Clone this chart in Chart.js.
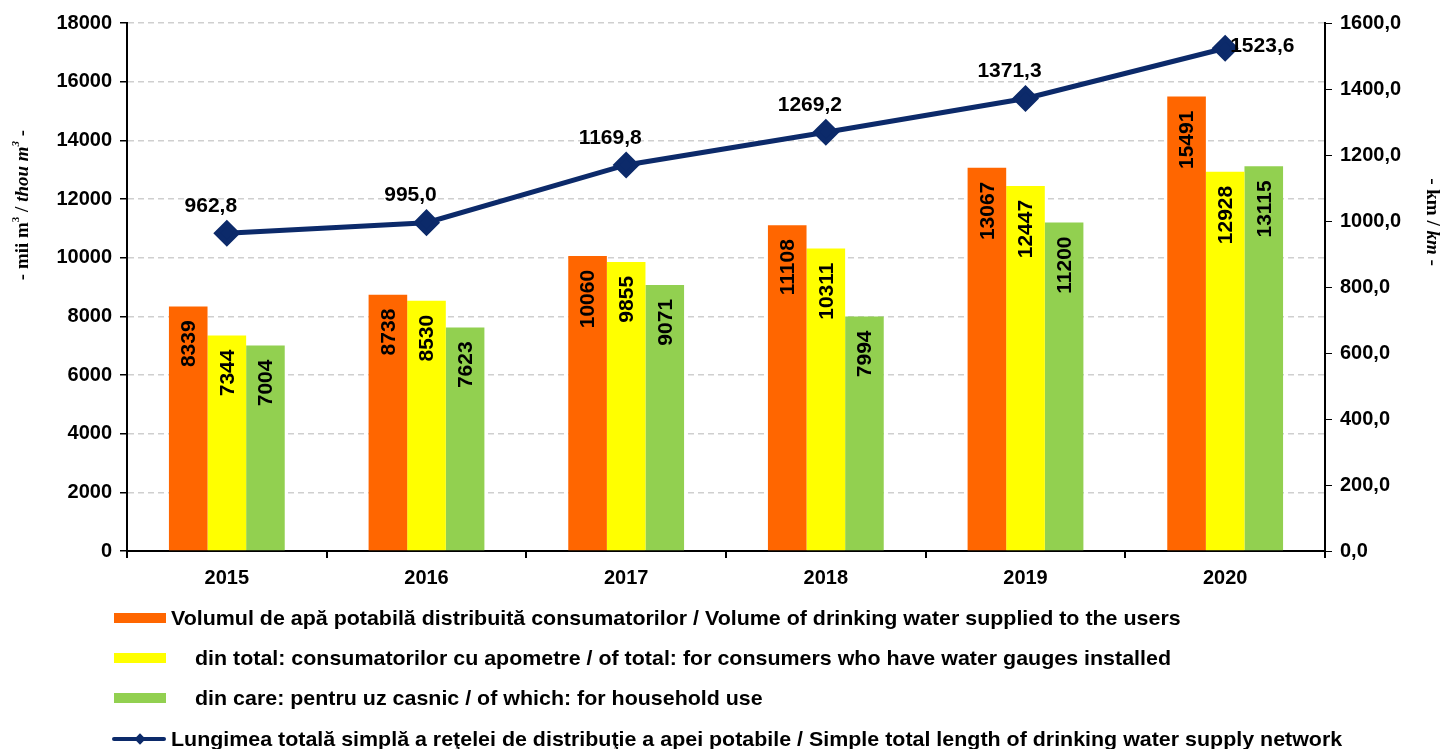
<!DOCTYPE html>
<html>
<head>
<meta charset="utf-8">
<script src="https://cdn.jsdelivr.net/npm/chart.js@4"></script>
<style>
  body { margin: 0; background: #fff; }
  #wrap { position: relative; width: 1443px; height: 749px; }
  #chart { position: absolute; left: 0; top: 0; }
  .legend-row { position: absolute; left: 0; height: 24px; font: bold 21px "Liberation Sans", Arial, sans-serif; color: #000; white-space: nowrap; }
  .legend-row .sw { position: absolute; left: 114px; top: 7px; width: 52px; height: 10px; }
  .legend-row .txt { position: absolute; top: 0; line-height: 24px; transform: scaleX(1.02); transform-origin: left center; }
  .legend-row .ln { position: absolute; left: 112px; top: 10px; width: 54px; height: 4px; background: #0c2a6a; border-radius: 2px; }
  .legend-row .dm { position: absolute; left: 136px; top: 8px; width: 8px; height: 8px; background: #0c2a6a; transform: rotate(45deg); }
</style>
</head>
<body>
<div id="wrap">
  <canvas id="chart" width="1443" height="749"></canvas>
  <div class="legend-row" style="top:606px"><span class="sw" style="background:#FF6600"></span><span class="txt" style="left:171px">Volumul de apă potabilă distribuită consumatorilor / Volume of drinking water supplied to the users</span></div>
  <div class="legend-row" style="top:646px"><span class="sw" style="background:#FFFF00"></span><span class="txt" style="left:195px">din total: consumatorilor cu apometre / of total: for consumers who have water gauges installed</span></div>
  <div class="legend-row" style="top:686px"><span class="sw" style="background:#92D050"></span><span class="txt" style="left:195px">din care: pentru uz casnic / of which: for household use</span></div>
  <div class="legend-row" style="top:727px"><span class="ln"></span><span class="dm"></span><span class="txt" style="left:171px">Lungimea totală simplă a reţelei de distribuţie a apei potabile / Simple total length of drinking water supply network</span></div>
</div>
<script>
const years = ['2015', '2016', '2017', '2018', '2019', '2020'];
const volumeSupplied = [8339, 8738, 10060, 11108, 13067, 15491];
const volumeWithGauges = [7344, 8530, 9855, 10311, 12447, 12928];
const volumeHousehold = [7004, 7623, 9071, 7994, 11200, 13115];
const networkLength = [962.8, 995.0, 1169.8, 1269.2, 1371.3, 1523.6];

const FONT = '"Liberation Sans", Arial, sans-serif';
const SERIF = '"Liberation Serif", "Times New Roman", serif';
const comma = v => v.toFixed(1).replace('.', ',');

// draws mixed-style text (italic / superscript) centred at cx,cy, rotated by angle
function drawRich(ctx, parts, cx, cy, angle, size) {
    ctx.save();
    ctx.translate(cx, cy);
    ctx.rotate(angle);
    ctx.textBaseline = 'middle';
    ctx.textAlign = 'left';
    const fontOf = p => (p.it ? 'italic ' : '') + 'bold ' + (p.sup ? Math.round(size * 0.6) : size) + 'px ' + SERIF;
    let total = 0;
    parts.forEach(p => { ctx.font = fontOf(p); total += ctx.measureText(p.t).width; });
    let x = -total / 2;
    parts.forEach(p => {
        ctx.font = fontOf(p);
        ctx.fillStyle = '#000';
        ctx.fillText(p.t, x, p.sup ? -size * 0.35 : 0);
        x += ctx.measureText(p.t).width;
    });
    ctx.restore();
}

const labelsPlugin = {
    id: 'labelsPlugin',
    afterDatasetsDraw(chart) {
        const ctx = chart.ctx;
        // rotated bar values, inside the top end of each bar
        [0, 1, 2].forEach(di => {
            const meta = chart.getDatasetMeta(di);
            meta.data.forEach((bar, i) => {
                ctx.save();
                ctx.translate(bar.x + 1, bar.y + 14);
                ctx.rotate(-Math.PI / 2);
                ctx.font = 'bold 21px ' + FONT;
                ctx.fillStyle = '#000';
                ctx.textAlign = 'right';
                ctx.textBaseline = 'middle';
                ctx.fillText(String(chart.data.datasets[di].data[i]), 0, 0);
                ctx.restore();
            });
        });
        // line values
        const lm = chart.getDatasetMeta(3);
        ctx.save();
        ctx.font = 'bold 21px ' + FONT;
        ctx.fillStyle = '#000';
        ctx.textBaseline = 'middle';
        lm.data.forEach((pt, i) => {
            const txt = comma(networkLength[i]);
            if (i === lm.data.length - 1) {
                ctx.textAlign = 'left';
                ctx.fillText(txt, pt.x + 5, pt.y - 2);
            } else {
                ctx.textAlign = 'center';
                ctx.fillText(txt, pt.x - 16, pt.y - 27);
            }
        });
        ctx.restore();
    },
    afterDraw(chart) {
        const ctx = chart.ctx;
        drawRich(ctx, [
            { t: '- mii m' }, { t: '3', sup: true }, { t: ' / ' },
            { t: 'thou m', it: true }, { t: '3', sup: true, it: true }, { t: ' -' }
        ], 23, 205, -Math.PI / 2, 19);
        drawRich(ctx, [
            { t: '- km / ' }, { t: 'km', it: true }, { t: ' -' }
        ], 1432, 222, Math.PI / 2, 19);
    }
};

const ctx = document.getElementById('chart').getContext('2d');
new Chart(ctx, {
    data: {
        labels: years,
        datasets: [
            { type: 'bar', label: 'Volumul de apă potabilă distribuită consumatorilor / Volume of drinking water supplied to the users', data: volumeSupplied, backgroundColor: '#FF6600', yAxisID: 'y', order: 2 },
            { type: 'bar', label: 'din total: consumatorilor cu apometre / of total: for consumers who have water gauges installed', data: volumeWithGauges, backgroundColor: '#FFFF00', yAxisID: 'y', order: 2 },
            { type: 'bar', label: 'din care: pentru uz casnic / of which: for household use', data: volumeHousehold, backgroundColor: '#92D050', yAxisID: 'y', order: 2 },
            {
                type: 'line', label: 'Lungimea totală simplă a reţelei de distribuţie a apei potabile / Simple total length of drinking water supply network',
                data: networkLength, yAxisID: 'y1', order: 1,
                borderColor: '#0c2a6a', backgroundColor: '#0c2a6a', borderWidth: 5,
                pointStyle: 'rectRot', pointRadius: 10, pointHoverRadius: 10, tension: 0
            }
        ]
    },
    options: {
        responsive: false,
        animation: false,
        layout: { padding: { top: 23, bottom: 158, left: 0, right: 0 } },
        datasets: { bar: { barPercentage: 1, categoryPercentage: 0.58 } },
        plugins: { legend: { display: false }, tooltip: { enabled: false } },
        scales: {
            x: {
                offset: true,
                grid: { offset: true, drawOnChartArea: false, tickLength: 7, tickColor: '#000', lineWidth: 2 },
                border: { color: '#000', width: 2 },
                ticks: { color: '#000', font: { family: FONT, size: 20, weight: 'bold' }, padding: 8 },
                afterFit(scale) { scale.height = 40; }
            },
            y: {
                position: 'left',
                min: 0, max: 18000,
                ticks: { stepSize: 2000, color: '#000', font: { family: FONT, size: 20, weight: 'bold' }, padding: 8, callback: v => String(v) },
                grid: { color: '#cfcfcf', lineWidth: 1.5, tickLength: 7, tickColor: '#000' },
                border: { color: '#000', width: 2, dash: [6, 4] },
                afterFit(scale) { scale.width = 127; }
            },
            y1: {
                position: 'right',
                min: 0, max: 1600,
                ticks: { stepSize: 200, color: '#000', font: { family: FONT, size: 20, weight: 'bold' }, padding: 8, callback: v => comma(v) },
                grid: { drawOnChartArea: false, tickLength: 7, tickColor: '#000' },
                border: { color: '#000', width: 2 },
                afterFit(scale) { scale.width = 118; }
            }
        }
    },
    plugins: [labelsPlugin]
});
</script>
</body>
</html>
